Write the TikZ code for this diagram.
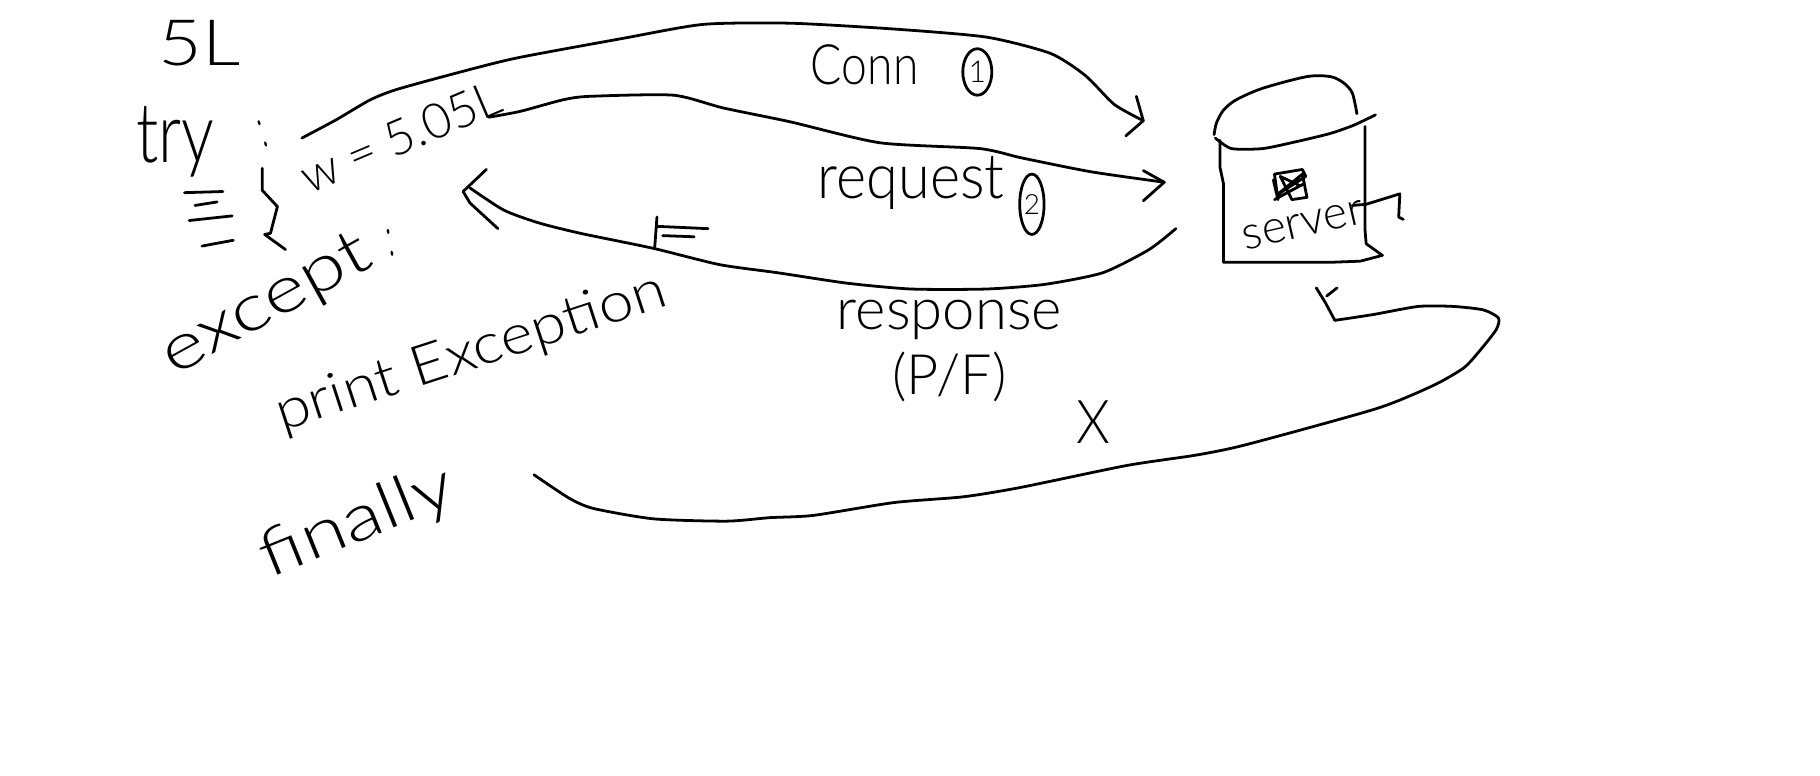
\documentclass[tikz,border=0pt]{standalone}
\usepackage{fontspec}
\setmainfont{Lato}[UprightFont=* Light]
\usetikzlibrary{shapes.geometric}
\tikzset{
  pen/.style={line width=1.2pt, line cap=round, line join=round},
  script/.style={inner sep=0pt, font=\fontsize{#1}{#1}\selectfont},
  script/.default=24,
  badge/.style={draw, ellipse, line width=1.2pt}
}
\begin{document}
\begin{tikzpicture}[x=0.5pt, y=-0.5pt]
\useasboundingbox (0,0) rectangle (1568,667.7);
% Code on the left
\node[script=25, xscale=1.3, yscale=1.1] (size) at (172,37) {5L};
\node[script=36, xscale=0.78] (try) at (151,122) {try};
\node[script=12, rotate=17, yscale=2] (trycolon) at (226,115) {:};
\draw[pen] (159,166) -- (192,165);
\draw[pen] (168,177) -- (187,174);
\draw[pen] (163,190) -- (200,186);
\draw[pen] (174,212) -- (201,207);
\draw[pen] (226,145) -- (226,164) -- (239,178) -- (233,201) -- (228,202) -- (246,215);
\node[script=21, rotate=23] (width) at (345,118) {w = 5.05L};
\node[script=28, rotate=29, xscale=1.25] (except) at (230,264) {except};
\node[script=12, rotate=10, yscale=2] (exceptcolon) at (336,209) {:};
\node[script=24, rotate=18, xscale=1.12] (print) at (406,305) {print Exception};
\node[script=28, rotate=22, xscale=1.25] (finally) at (308,451) {finally};
% Conn
\coordinate (connfrom) at (260,119);
\coordinate (connto) at (985,104);
\draw[pen] plot[smooth, tension=0.4] coordinates {(connfrom) (290,103) (319,86) (342,77) (393,63) (445,50) (537,33) (606,21) (681,20) (770,25) (850,32) (905,46) (935,65) (960,90) (connto)};
\draw[pen] (970,117) -- (connto) -- (979,83);
\node[script=24, xscale=0.83] (conn) at (745,56) {Conn};
\node[script=13, badge, inner sep=0pt, minimum width=12.5pt, minimum height=20pt] (connnum) at (842,62) {1};
% Request
\coordinate (reqfrom) at (421,101);
\coordinate (reqto) at (1003,157);
\draw[pen] plot[smooth, tension=0.4] coordinates {(reqfrom) (448,96) (485,86) (508,83) (580,82) (623,93) (681,105) (758,123) (844,128) (880,136) (940,148) (reqto)};
\draw[pen] (985,147) -- (reqto) -- (985,173);
\node[script=27, xscale=0.92] (request) at (785,158) {request};
\node[script=12, badge, inner sep=0pt, minimum width=10.5pt, minimum height=26pt] (reqnum) at (889,176) {2};
% Response
\coordinate (respfrom) at (1013,197);
\coordinate (respto) at (405,162);
\draw[pen] plot[smooth, tension=0.4] coordinates {(respfrom) (990,215) (950,235) (900,245) (850,249) (785,249) (730,244) (670,235) (620,228) (563,214) (500,201) (464,192) (434,181) (respto)};
\draw[pen] (419,146) -- (399,165) -- (405,175) -- (429,197);
\draw[pen] (566,187) -- (564,214);
\draw[pen] (566,195) -- (610,197);
\draw[pen] (571,203) -- (598,204);
\node[script=25] (response) at (818,276) {response};
\node[script=24] (result) at (818,325) {(P/F)};
% Server
\draw[pen] plot[smooth, tension=0.5] coordinates {(1046,116) (1048,106) (1054,95) (1065,86) (1088,76) (1126,66) (1146,66) (1157,71) (1165,80) (1169,98)};
\draw[pen] plot[smooth, tension=0.4] coordinates {(1047,119) (1061,128) (1088,128) (1117,122) (1146,115) (1166,108) (1185,99)};
\draw[pen] (1051,121) -- (1051,144) -- (1054,158) -- (1054,226) -- (1146,226) -- (1172,225) -- (1191,220) -- (1177,210) -- (1176,198) -- (1176,109);
\draw[pen] (1097,155) -- (1101,172) -- (1098,150) -- (1122,146) -- (1125,152) -- (1100,168) -- (1122,150) -- (1126,170) -- (1113,172) -- (1103,152) -- (1120,160) -- (1098,172) -- (1124,158);
\node[script=20, rotate=13] (server) at (1123,194) {server};
\draw[pen] (1165,177) -- (1177,176) -- (1206,167) -- (1205,187) -- (1209,189);
% Broken link
\coordinate (brokenfrom) at (460,409);
\coordinate (brokento) at (1150,276);
\draw[pen] plot[smooth, tension=0.4] coordinates {(brokenfrom) (490,429) (511,438) (563,447) (626,449) (663,446) (701,444) (770,433) (830,428) (879,420) (971,401) (1031,392) (1074,383) (1186,352) (1235,332) (1261,317) (1275,302) (1289,284) (1291,274) (1278,267) (1252,264) (1222,264) (1183,271) (brokento)};
\draw[pen] (1134,248) -- (1142,261) -- (brokento);
\draw[pen] (1143,255) -- (1152,248);
\node[script=26, xscale=0.9] (cut) at (942,364) {X};
\end{tikzpicture}
\end{document}
